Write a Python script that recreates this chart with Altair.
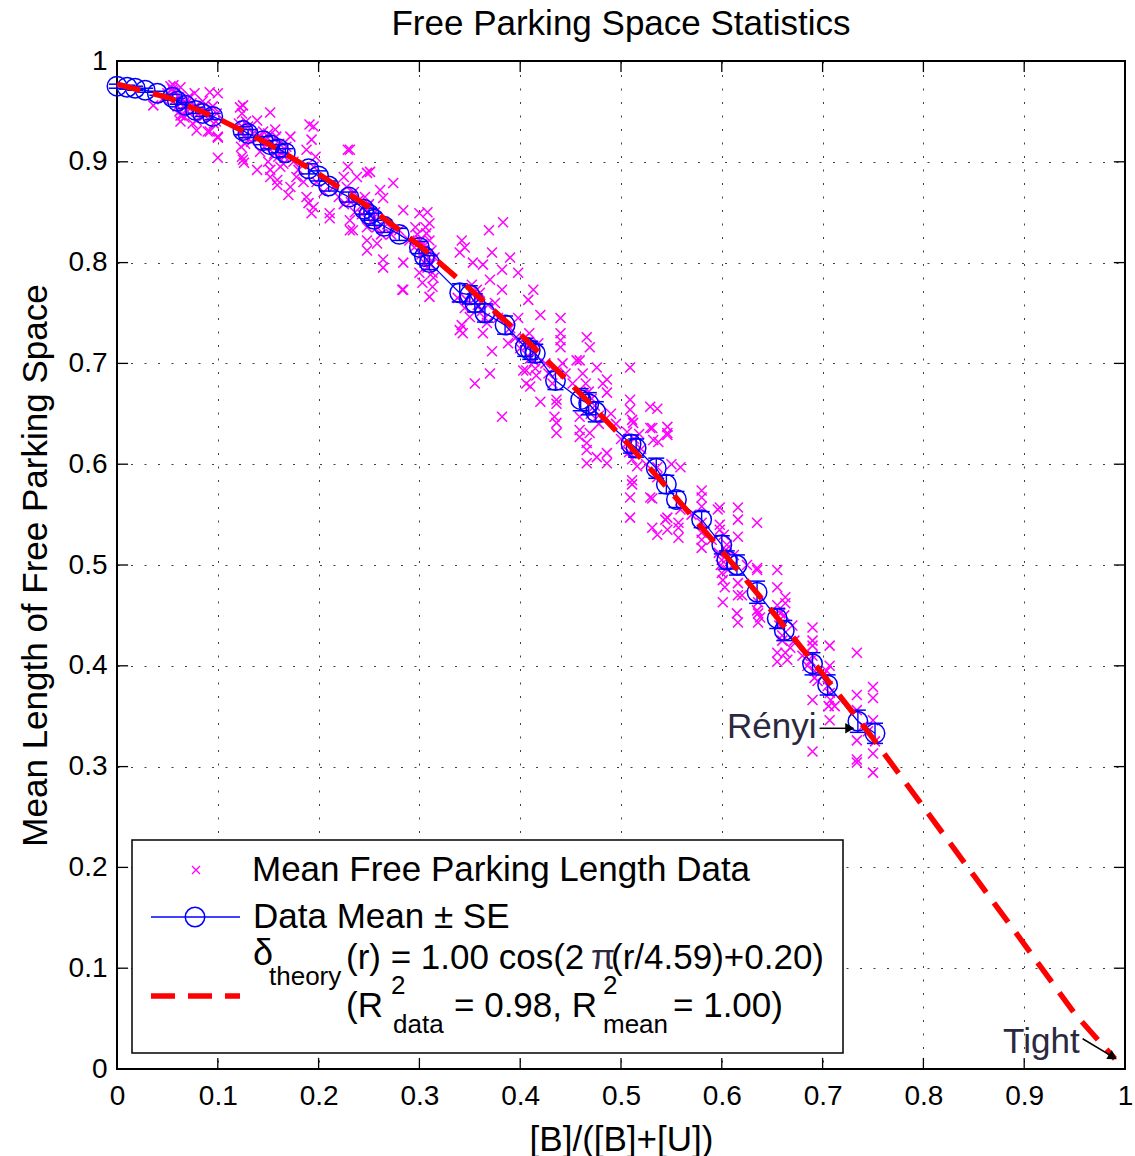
import altair as alt
import pandas as pd

# ---------------- data ----------------
tick_vals = [0.0, 0.1, 0.2, 0.3, 0.4, 0.5, 0.6, 0.7, 0.8, 0.9, 1.0]

# dashed red theory curve
theory_x = [0.00, 0.05, 0.10, 0.15, 0.20, 0.25, 0.30, 0.35, 0.40, 0.45, 0.50,
            0.55, 0.60, 0.65, 0.70, 0.75, 0.80, 0.85, 0.90, 0.95, 0.99]
theory_y = [0.977, 0.964, 0.943, 0.918, 0.888, 0.855, 0.817, 0.774, 0.729, 0.680, 0.628,
            0.572, 0.514, 0.454, 0.392, 0.328, 0.260, 0.192, 0.124, 0.055, 0.010]

# blue means with standard errors
mean_x = [0.000, 0.010, 0.018, 0.028, 0.040, 0.055, 0.060, 0.068, 0.078, 0.085, 0.095,
          0.125, 0.130, 0.145, 0.152, 0.160, 0.167, 0.190, 0.200, 0.210, 0.230, 0.245,
          0.250, 0.255, 0.265, 0.280, 0.300, 0.305, 0.310, 0.340, 0.350, 0.355, 0.365,
          0.385, 0.405, 0.410, 0.415, 0.435, 0.460, 0.468, 0.475, 0.510, 0.515, 0.535,
          0.545, 0.555, 0.580, 0.600, 0.605, 0.615, 0.635, 0.655, 0.662, 0.690, 0.705,
          0.735, 0.752]
mean_y = [0.975, 0.974, 0.973, 0.971, 0.968, 0.964, 0.960, 0.956, 0.951, 0.948, 0.945,
          0.931, 0.928, 0.921, 0.917, 0.913, 0.909, 0.893, 0.886, 0.876, 0.865, 0.853,
          0.848, 0.843, 0.836, 0.828, 0.815, 0.806, 0.800, 0.770, 0.768, 0.760, 0.750,
          0.738, 0.716, 0.713, 0.710, 0.683, 0.664, 0.660, 0.652, 0.620, 0.616, 0.596,
          0.580, 0.565, 0.545, 0.520, 0.505, 0.500, 0.473, 0.447, 0.435, 0.402, 0.381,
          0.345, 0.333]
mean_se = [0.002, 0.002, 0.002, 0.002, 0.002, 0.003, 0.003, 0.003, 0.003, 0.003, 0.003,
           0.004, 0.004, 0.004, 0.004, 0.004, 0.004, 0.005, 0.005, 0.005, 0.005, 0.005,
           0.006, 0.006, 0.006, 0.006, 0.006, 0.007, 0.007, 0.009, 0.009, 0.009, 0.009,
           0.009, 0.009, 0.009, 0.009, 0.009, 0.011, 0.011, 0.010, 0.009, 0.009, 0.010,
           0.009, 0.008, 0.008, 0.009, 0.009, 0.010, 0.011, 0.010, 0.010, 0.011, 0.010,
           0.011, 0.010]

# magenta crosses (x, y), grouped by region
crosses_a = [(0.053, 0.975), (0.056, 0.970), (0.058, 0.962), (0.060, 0.955), (0.062, 0.950),
             (0.065, 0.946), (0.067, 0.944), (0.069, 0.958), (0.056, 0.976), (0.063, 0.974),
             (0.077, 0.968), (0.092, 0.969), (0.100, 0.968), (0.100, 0.925), (0.100, 0.904),
             (0.079, 0.931), (0.090, 0.930), (0.036, 0.956), (0.063, 0.946), (0.063, 0.940),
             (0.079, 0.941), (0.083, 0.952), (0.087, 0.946), (0.095, 0.955), (0.072, 0.965),
             (0.045, 0.962), (0.050, 0.968), (0.070, 0.950), (0.085, 0.960), (0.098, 0.940),
             (0.092, 0.930), (0.100, 0.924), (0.075, 0.938), (0.088, 0.957),
             (0.055, 0.972), (0.058, 0.968), (0.061, 0.964), (0.064, 0.960), (0.066, 0.955),
             (0.070, 0.962), (0.074, 0.958), (0.078, 0.955), (0.081, 0.948), (0.084, 0.944),
             (0.089, 0.950), (0.093, 0.945), (0.096, 0.938), (0.099, 0.948)]
crosses_b = [(0.122, 0.954), (0.125, 0.956), (0.124, 0.948), (0.123, 0.915), (0.125, 0.902),
             (0.124, 0.905), (0.126, 0.899), (0.139, 0.892), (0.139, 0.941), (0.152, 0.949),
             (0.152, 0.892), (0.152, 0.885), (0.159, 0.882), (0.159, 0.877), (0.172, 0.875),
             (0.170, 0.867), (0.172, 0.925), (0.191, 0.937), (0.195, 0.935), (0.193, 0.922),
             (0.188, 0.912), (0.190, 0.859), (0.193, 0.849), (0.188, 0.865), (0.130, 0.935),
             (0.135, 0.928), (0.145, 0.930), (0.148, 0.922), (0.155, 0.915), (0.160, 0.905),
             (0.165, 0.898), (0.142, 0.910), (0.133, 0.920), (0.168, 0.915), (0.175, 0.900),
             (0.180, 0.892), (0.185, 0.880), (0.128, 0.940), (0.157, 0.932), (0.150, 0.900),
             (0.178, 0.885), (0.195, 0.855), (0.197, 0.905), (0.198, 0.880),
             (0.121, 0.938), (0.123, 0.930), (0.126, 0.925), (0.127, 0.918), (0.142, 0.925),
             (0.146, 0.915), (0.150, 0.928), (0.153, 0.920), (0.156, 0.908), (0.158, 0.925),
             (0.161, 0.918), (0.163, 0.910), (0.166, 0.905), (0.162, 0.895)]
crosses_c = [(0.211, 0.844), (0.211, 0.849), (0.195, 0.895), (0.229, 0.912), (0.231, 0.912),
             (0.229, 0.895), (0.238, 0.885), (0.248, 0.889), (0.251, 0.890), (0.274, 0.879),
             (0.261, 0.872), (0.264, 0.864), (0.231, 0.842), (0.231, 0.832), (0.234, 0.832),
             (0.248, 0.835), (0.248, 0.822), (0.248, 0.812), (0.258, 0.819), (0.264, 0.803),
             (0.264, 0.795), (0.284, 0.800), (0.283, 0.773), (0.308, 0.850), (0.310, 0.839),
             (0.300, 0.849), (0.300, 0.790), (0.303, 0.780), (0.310, 0.766), (0.313, 0.776),
             (0.284, 0.852), (0.280, 0.832), (0.307, 0.829), (0.215, 0.875), (0.220, 0.865),
             (0.225, 0.858), (0.205, 0.870), (0.240, 0.862), (0.245, 0.855), (0.255, 0.845),
             (0.243, 0.848), (0.268, 0.838), (0.272, 0.828), (0.290, 0.822), (0.295, 0.815),
             (0.302, 0.808), (0.305, 0.800), (0.308, 0.795), (0.312, 0.812), (0.296, 0.835),
             (0.310, 0.822), (0.315, 0.805), (0.303, 0.818), (0.313, 0.790), (0.225, 0.885),
             (0.235, 0.870),
             (0.228, 0.875), (0.232, 0.860), (0.236, 0.850), (0.246, 0.865), (0.250, 0.858),
             (0.252, 0.840), (0.256, 0.850), (0.258, 0.835), (0.262, 0.828), (0.298, 0.828),
             (0.301, 0.822), (0.304, 0.812), (0.306, 0.835), (0.309, 0.805), (0.311, 0.798),
             (0.314, 0.785)]
crosses_d = [(0.284, 0.773), (0.340, 0.810), (0.342, 0.738), (0.353, 0.800), (0.363, 0.798),
             (0.370, 0.783), (0.382, 0.793), (0.382, 0.773), (0.413, 0.773), (0.408, 0.763),
             (0.420, 0.748), (0.440, 0.745), (0.440, 0.723), (0.340, 0.733), (0.363, 0.730),
             (0.370, 0.690), (0.355, 0.680), (0.382, 0.647), (0.406, 0.693), (0.406, 0.680),
             (0.420, 0.662), (0.436, 0.660), (0.436, 0.641), (0.436, 0.631), (0.357, 0.773),
             (0.360, 0.770), (0.347, 0.763), (0.343, 0.730), (0.367, 0.740), (0.350, 0.746),
             (0.345, 0.755), (0.338, 0.765), (0.375, 0.760), (0.378, 0.745), (0.390, 0.735),
             (0.395, 0.725), (0.398, 0.745), (0.400, 0.715), (0.403, 0.693), (0.410, 0.705),
             (0.415, 0.695), (0.418, 0.720), (0.425, 0.700), (0.428, 0.690), (0.432, 0.680),
             (0.442, 0.700), (0.445, 0.690), (0.410, 0.677), (0.388, 0.720), (0.372, 0.712),
             (0.352, 0.778), (0.356, 0.765), (0.358, 0.758), (0.362, 0.752), (0.365, 0.745),
             (0.368, 0.758), (0.404, 0.725), (0.407, 0.718), (0.409, 0.730), (0.412, 0.712),
             (0.414, 0.702), (0.416, 0.688), (0.383, 0.840), (0.369, 0.832), (0.342, 0.822),
             (0.345, 0.815), (0.372, 0.810), (0.390, 0.805), (0.398, 0.790)]
crosses_e = [(0.440, 0.730), (0.440, 0.716), (0.436, 0.691), (0.436, 0.664), (0.434, 0.647),
             (0.466, 0.726), (0.469, 0.716), (0.459, 0.703), (0.459, 0.647), (0.459, 0.634),
             (0.466, 0.621), (0.466, 0.614), (0.469, 0.631), (0.476, 0.607), (0.466, 0.601),
             (0.486, 0.684), (0.486, 0.671), (0.486, 0.611), (0.486, 0.601), (0.476, 0.696),
             (0.509, 0.696), (0.509, 0.664), (0.509, 0.654), (0.511, 0.644), (0.512, 0.641),
             (0.511, 0.584), (0.509, 0.567), (0.509, 0.547), (0.529, 0.657), (0.536, 0.655),
             (0.529, 0.636), (0.532, 0.624), (0.529, 0.567), (0.536, 0.587), (0.537, 0.622),
             (0.456, 0.703), (0.459, 0.627), (0.482, 0.680), (0.546, 0.637), (0.546, 0.631),
             (0.559, 0.597), (0.550, 0.600), (0.470, 0.650), (0.478, 0.640), (0.490, 0.650),
             (0.495, 0.640), (0.500, 0.625), (0.505, 0.620), (0.520, 0.615), (0.525, 0.600),
             (0.452, 0.680), (0.462, 0.670),
             (0.462, 0.690), (0.465, 0.680), (0.468, 0.672), (0.471, 0.665), (0.474, 0.658),
             (0.478, 0.648), (0.506, 0.632), (0.508, 0.612), (0.511, 0.605), (0.513, 0.625),
             (0.516, 0.598), (0.518, 0.630)]
crosses_f = [(0.531, 0.636), (0.546, 0.629), (0.536, 0.597), (0.511, 0.580), (0.531, 0.566),
             (0.531, 0.537), (0.536, 0.530), (0.546, 0.547), (0.546, 0.535), (0.557, 0.542),
             (0.557, 0.527), (0.559, 0.555), (0.580, 0.574), (0.580, 0.567), (0.580, 0.532),
             (0.580, 0.517), (0.598, 0.557), (0.598, 0.535), (0.600, 0.492), (0.601, 0.485),
             (0.601, 0.463), (0.616, 0.557), (0.616, 0.545), (0.616, 0.528), (0.616, 0.470),
             (0.635, 0.542), (0.635, 0.495), (0.635, 0.455), (0.638, 0.448), (0.615, 0.452),
             (0.580, 0.558), (0.580, 0.542), (0.580, 0.525), (0.557, 0.537), (0.544, 0.545),
             (0.596, 0.555), (0.600, 0.505), (0.598, 0.540), (0.603, 0.478), (0.616, 0.482),
             (0.616, 0.443), (0.635, 0.497), (0.636, 0.463), (0.636, 0.452), (0.636, 0.443),
             (0.590, 0.525), (0.605, 0.520), (0.625, 0.500), (0.620, 0.470), (0.570, 0.550),
             (0.597, 0.512), (0.599, 0.500), (0.602, 0.530), (0.604, 0.515), (0.606, 0.495),
             (0.612, 0.510)]
crosses_g = [(0.655, 0.495), (0.655, 0.478), (0.663, 0.468), (0.663, 0.462), (0.655, 0.413),
             (0.663, 0.413), (0.665, 0.406), (0.655, 0.404), (0.690, 0.438), (0.690, 0.425),
             (0.690, 0.420), (0.707, 0.420), (0.734, 0.413), (0.690, 0.366), (0.690, 0.315),
             (0.707, 0.400), (0.707, 0.373), (0.708, 0.366), (0.707, 0.346), (0.734, 0.371),
             (0.734, 0.356), (0.734, 0.326), (0.734, 0.307), (0.734, 0.304), (0.750, 0.379),
             (0.750, 0.368), (0.750, 0.346), (0.752, 0.325), (0.750, 0.313), (0.750, 0.294),
             (0.670, 0.440), (0.660, 0.430), (0.658, 0.452), (0.680, 0.410), (0.685, 0.400),
             (0.692, 0.395), (0.695, 0.385), (0.700, 0.390), (0.705, 0.380), (0.688, 0.405),
             (0.672, 0.425), (0.668, 0.418), (0.712, 0.360), (0.740, 0.340), (0.745, 0.335),
             (0.655, 0.460), (0.657, 0.440), (0.660, 0.425), (0.662, 0.450), (0.690, 0.410),
             (0.692, 0.388), (0.704, 0.395), (0.706, 0.360)]

# annotations (data coordinates)
renyi_text = {"x": 0.694, "y": 0.339, "label": "Rényi"}
renyi_arrow = {"x": 0.697, "x2": 0.727, "y": 0.338}
tight_text = {"x": 0.955, "y": 0.027, "label": "Tight"}
tight_arrow = {"x": 0.958, "y": 0.030, "x2": 0.988, "y2": 0.012}
chart_title = "Free Parking Space Statistics"

# ---------------- build tables ----------------
FONT = "Liberation Sans"
TXT = "#2b2840"
all_crosses = crosses_a + crosses_b + crosses_c + crosses_d + crosses_e + crosses_f + crosses_g
cross_df = pd.DataFrame(all_crosses, columns=["x", "y"])
theory_df = pd.DataFrame({"x": theory_x, "y": theory_y})
mean_df = pd.DataFrame({"x": mean_x, "y": mean_y, "se": mean_se})
mean_df["lo"] = mean_df["y"] - mean_df["se"]
mean_df["hi"] = mean_df["y"] + mean_df["se"]

xs = alt.Scale(domain=[0, 1], nice=False, zero=False)
ys = alt.Scale(domain=[0, 1], nice=False, zero=False)

x_axis = alt.Axis(values=tick_vals, format="~g", grid=True, gridDash=[2, 11.5],
                  gridColor="#000000", gridOpacity=0.75, gridWidth=1, ticks=False, domain=False,
                  labelFont=FONT, labelFontSize=28, labelColor="black", labelPadding=13,
                  labelFlush=False, labelOverlap=False,
                  title="[B]/([B]+[U])", titleFont=FONT, titleFontSize=35,
                  titleFontWeight="normal", titleColor="black", titleX=504, titleY=70,
                  titleBaseline="middle", titleAlign="center")
y_axis = alt.Axis(values=tick_vals, format="~g", grid=True, gridDash=[2, 11.5],
                  gridColor="#000000", gridOpacity=0.75, gridWidth=1, ticks=False, domain=False,
                  labelFont=FONT, labelFontSize=28, labelColor="black", labelPadding=10,
                  labelFlush=False, labelOverlap=False,
                  title="Mean Length of Free Parking Space", titleFont=FONT, titleFontSize=35,
                  titleFontWeight="normal", titleColor="black", titleX=-82, titleY=504,
                  titleAngle=270, titleBaseline="middle", titleAlign="center")


def X(field):
    return alt.X(field, scale=xs, axis=x_axis)


def Y(field):
    return alt.Y(field, scale=ys, axis=y_axis)


CROSS = "M-1,-1L1,1M-1,1L1,-1"
HBAR = "M-1,0L1,0"

crosses = alt.Chart(cross_df).mark_point(shape=CROSS, size=100, filled=False,
                                         color="#ff00ff", strokeWidth=1.5, opacity=1).encode(
    x=X("x:Q"), y=Y("y:Q"))

mean_line = alt.Chart(mean_df).mark_line(color="#0000ff", strokeWidth=1.3).encode(
    x=X("x:Q"), y=Y("y:Q"))
err_rule = alt.Chart(mean_df).mark_rule(color="#0000ff", strokeWidth=1.4).encode(
    x=X("x:Q"), y=Y("lo:Q"), y2="hi:Q")
cap_hi = alt.Chart(mean_df).mark_point(shape=HBAR, size=256, filled=False, color="#0000ff",
                                       strokeWidth=1.5, opacity=1).encode(
    x=X("x:Q"), y=Y("hi:Q"))
cap_lo = alt.Chart(mean_df).mark_point(shape=HBAR, size=256, filled=False, color="#0000ff",
                                       strokeWidth=1.5, opacity=1).encode(
    x=X("x:Q"), y=Y("lo:Q"))
circles = alt.Chart(mean_df).mark_point(shape="circle", size=380, filled=False, color="#0000ff",
                                        strokeWidth=1.5, opacity=1).encode(
    x=X("x:Q"), y=Y("y:Q"))

theory = alt.Chart(theory_df).mark_line(color="#ff0000", strokeWidth=5.5,
                                        strokeDash=[24, 13]).encode(
    x=X("x:Q"), y=Y("y:Q"))

# inward ticks on all four sides
tk = 0.011
ticks_df = pd.DataFrame({"v": tick_vals})
ticks_df["lo0"] = 0.0
ticks_df["hi0"] = tk
ticks_df["lo1"] = 1.0 - tk
ticks_df["hi1"] = 1.0
tick_layers = []
for a, b in [("lo0", "hi0"), ("lo1", "hi1")]:
    tick_layers.append(alt.Chart(ticks_df).mark_rule(color="black", strokeWidth=1.3).encode(
        x=X("v:Q"), y=Y(f"{a}:Q"), y2=f"{b}:Q"))
    tick_layers.append(alt.Chart(ticks_df).mark_rule(color="black", strokeWidth=1.3).encode(
        y=Y("v:Q"), x=X(f"{a}:Q"), x2=f"{b}:Q"))

# annotations
one = pd.DataFrame({"k": [0]})
ren_t = alt.Chart(pd.DataFrame([renyi_text])).mark_text(
    font=FONT, fontSize=35, color=TXT, align="right", baseline="middle").encode(
    x=X("x:Q"), y=Y("y:Q"), text="label:N")
ren_a = alt.Chart(pd.DataFrame([renyi_arrow])).mark_rule(color="black", strokeWidth=1.5).encode(
    x=X("x:Q"), x2="x2:Q", y=Y("y:Q"))
ren_h = alt.Chart(pd.DataFrame([renyi_arrow])).mark_point(
    shape="triangle-right", size=110, filled=True, color="black", opacity=1).encode(
    x=X("x2:Q"), y=Y("y:Q"))
tig_t = alt.Chart(pd.DataFrame([tight_text])).mark_text(
    font=FONT, fontSize=35, color=TXT, align="right", baseline="middle").encode(
    x=X("x:Q"), y=Y("y:Q"), text="label:N")
tig_a = alt.Chart(pd.DataFrame([tight_arrow])).mark_rule(color="black", strokeWidth=1.5).encode(
    x=X("x:Q"), x2="x2:Q", y=Y("y:Q"), y2="y2:Q")
tig_h = alt.Chart(pd.DataFrame([tight_arrow])).mark_point(
    shape="triangle-right", size=110, filled=True, color="black", opacity=1, angle=31).encode(
    x=X("x2:Q"), y=Y("y2:Q"))

# chart title, drawn above the plot frame
title_mark = alt.Chart(one).mark_text(font=FONT, fontSize=35, color="black", align="center",
                                      baseline="alphabetic").encode(
    x=alt.value(504), y=alt.value(-26), text=alt.value(chart_title))

# ---------------- hand-drawn legend (pixel positions inside the plot) ----------------
legend = []
legend.append(alt.Chart(one).mark_rect(fill="white", stroke="black", strokeWidth=1.5).encode(
    x=alt.value(15), x2=alt.value(726), y=alt.value(779), y2=alt.value(992)))
legend.append(alt.Chart(one).mark_point(shape=CROSS, size=64, filled=False, color="#ff00ff",
                                        strokeWidth=1.3, opacity=1).encode(
    x=alt.value(79), y=alt.value(809)))
legend.append(alt.Chart(one).mark_rule(color="#0000ff", strokeWidth=1.3).encode(
    x=alt.value(34), x2=alt.value(123), y=alt.value(856)))
legend.append(alt.Chart(one).mark_point(shape="circle", size=380, filled=False, color="#0000ff",
                                        strokeWidth=1.5, opacity=1).encode(
    x=alt.value(78), y=alt.value(856)))
legend.append(alt.Chart(one).mark_rule(color="#ff0000", strokeWidth=5.5,
                                       strokeDash=[24, 13]).encode(
    x=alt.value(34), x2=alt.value(123), y=alt.value(935)))

legend_texts = [
    ("Mean Free Parking Length Data", 135, 809, 35, "black"),
    ("Data Mean \u00b1 SE", 136, 856, 35, "black"),
    ("\u03b4", 136, 893, 36, "black"),
    ("theory", 152, 916, 26, "black"),
    ("(r) = 1.00 cos(2", 229, 897, 35, "black"),
    ("\u03c0", 474, 897, 35, TXT),
    ("(r/4.59)+0.20)", 494, 897, 35, "black"),
    ("(R", 229, 945, 35, "black"),
    ("2", 274, 925, 26, "black"),
    ("data", 276, 964, 26, "black"),
    ("= 0.98, R", 337, 945, 35, "black"),
    ("2", 486, 925, 26, "black"),
    ("mean", 486, 964, 26, "black"),
    ("= 1.00)", 556, 945, 35, "black"),
]
for txt, px, py, fs, col in legend_texts:
    legend.append(alt.Chart(one).mark_text(font=FONT, fontSize=fs, color=col, align="left",
                                           baseline="middle").encode(
        x=alt.value(px), y=alt.value(py), text=alt.value(txt)))

chart = alt.layer(
    crosses, mean_line, err_rule, cap_hi, cap_lo, circles, theory,
    *tick_layers, ren_t, ren_a, ren_h, tig_t, tig_a, tig_h, title_mark, *legend
).properties(
    width=1008, height=1008,
    padding={"left": 117, "top": 61, "right": 10, "bottom": 87},
    autosize="none",
).configure_view(stroke="black", strokeWidth=2)

chart.save("out.html", embed_options={"renderer": "svg", "actions": False})
